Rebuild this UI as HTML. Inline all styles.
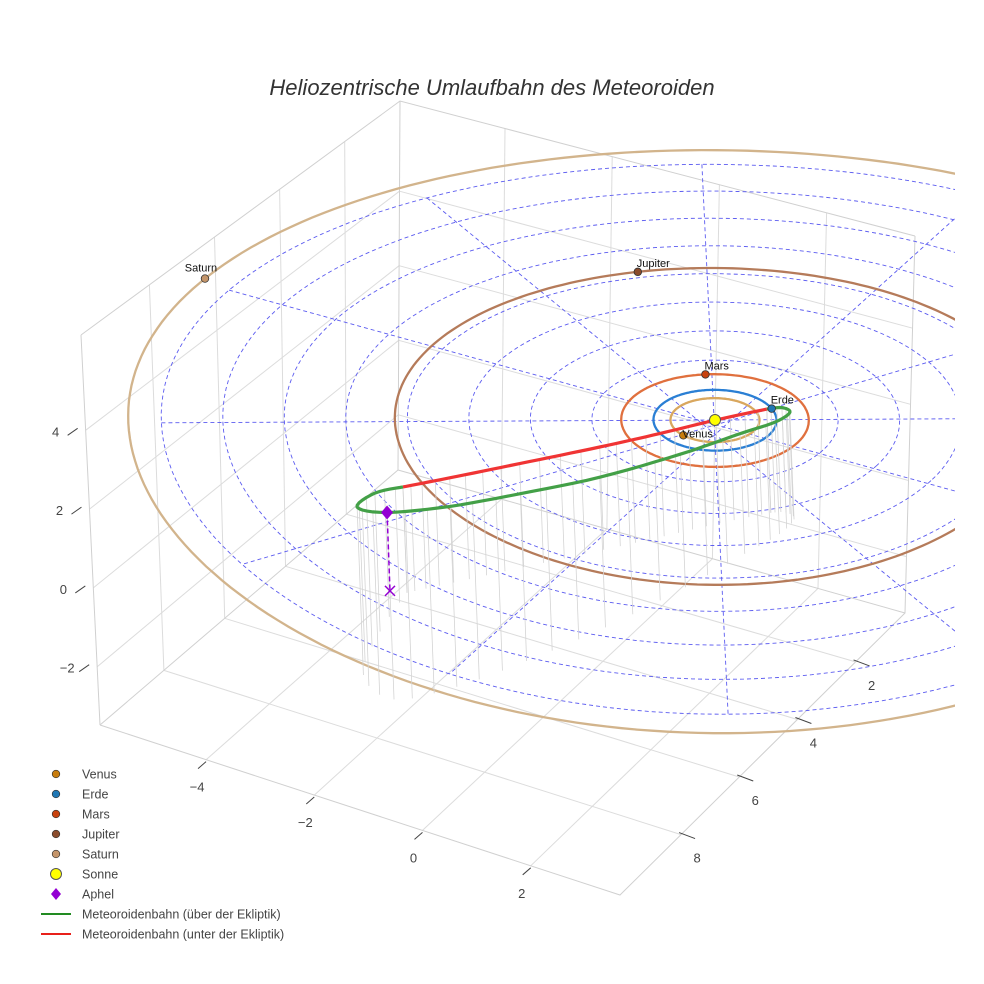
<!DOCTYPE html>
<html><head><meta charset="utf-8">
<style>
html,body{margin:0;padding:0;background:#fff;}
svg{display:block;font-family:"Liberation Sans",sans-serif;}
</style></head>
<body>
<svg id="chart" width="984" height="984" viewBox="0 0 984 984" xmlns="http://www.w3.org/2000/svg">
<defs><clipPath id="sceneClip"><rect x="0" y="0" width="955" height="984"/></clipPath></defs>
<rect x="0" y="0" width="984" height="984" fill="#fff"/>
<text x="492" y="95" text-anchor="middle" font-size="22" font-style="italic" fill="#333">Heliozentrische Umlaufbahn des Meteoroiden</text>
<g id="box"></g>
<g id="scene" clip-path="url(#sceneClip)"></g>
<g id="legend"></g>
</svg>
<script>
// ---- data ----
const planetNames = ['Venus','Erde','Mars','Jupiter','Saturn'];
const planetRadius = [0.723, 1.0, 1.524, 5.203, 9.537];
const planetAngle = [106.7, -51.5, -124.5, -132.6, 181.0];
const gridRadii = [1,2,3,4,5,6,7,8,9];
const gridAngles = [-30, 0, 30, 60, 90, 120];
const redU = [-3.38,-2.87,-2.11,-1.24,-0.59,0.0,0.56];
const redV = [4.39,3.74,2.76,1.64,0.78,-0.03,-0.73];
const redZ = [0,-0.02,-0.04,-0.05,-0.04,-0.02,0];
const greenU = [-3.38,-3.19,-2.80,-2.02,-1.31,-0.69,-0.06,0.48,0.82,1.01,0.99,0.77,0.56];
const greenV = [4.39,5.65,6.93,7.32,6.49,5.26,3.74,2.02,0.63,-0.20,-0.73,-0.86,-0.73];
const greenZ = [0,0.8,1.5,1.95,1.8,1.5,1.1,0.7,0.4,0.2,0.08,0.03,0];
const aphelU = [-2.02];
const aphelV = [7.32];
const aphelZ = [1.95];
const xTicks = [-4,-2,0,2];
const yTicks = [2,4,6,8];
const zTicks = [-2,0,2,4];
const xRange = [-5.96, 3.65];
const yRange = [0.3, 10.1];
const zRange = [-3.48, 6.42];
const dropFloorZ = -2.7;

// ---- styles ----
const orbitColors = ['#d9a75e','#2a7fd4','#e0703e','#b57b5a','#d2b48c'];
const markerColors = ['#c87d0e','#1f77b4','#c8420e','#8b4c2c','#c4956a'];

const NS = 'http://www.w3.org/2000/svg';
function S(u,v,z){
  const d = (15.5*u + 27.5*v)/31.6;
  const f = 0.963/(1 - 0.0078*d);
  return [715 + 54*u - 29.5*v - 1.5*z, 420 + f*(15.5*u + 27.5*v - 40*z)];
}
const floorQ = {bl:[398,470], br:[905,613], fl:[100,725], fr:[620,895]};
const topQ = {bl:[400,101], br:[915,236], fl:[81,335], fr:[612,490]};
function bil(Q,fx,fy){
  const b=[Q.bl[0]+(Q.br[0]-Q.bl[0])*fx, Q.bl[1]+(Q.br[1]-Q.bl[1])*fx];
  const f=[Q.fl[0]+(Q.fr[0]-Q.fl[0])*fx, Q.fl[1]+(Q.fr[1]-Q.fl[1])*fx];
  return [b[0]+(f[0]-b[0])*fy, b[1]+(f[1]-b[1])*fy];
}
function B(x,y,z){
  const fx=(x-xRange[0])/(xRange[1]-xRange[0]), fy=(y-yRange[0])/(yRange[1]-yRange[0]), fz=(z-zRange[0])/(zRange[1]-zRange[0]);
  const a=bil(floorQ,fx,fy), t=bil(topQ,fx,fy);
  return [a[0]+(t[0]-a[0])*fz, a[1]+(t[1]-a[1])*fz];
}
function mk(tag, attrs, parent){ const e=document.createElementNS(NS,tag); for(const k in attrs) e.setAttribute(k,attrs[k]); parent.appendChild(e); return e; }
function pts(arr){ return arr.map(p=>p[0].toFixed(1)+','+p[1].toFixed(1)).join(' '); }

const box = document.getElementById('box');
const scene = document.getElementById('scene');
const legend = document.getElementById('legend');
const gridCol = '#dcdcdc';
xTicks.forEach(x=>{ const l=mk('polyline',{points:pts([B(x,yRange[0],zRange[0]),B(x,yRange[1],zRange[0])]),stroke:gridCol,fill:'none'},box);
   });
yTicks.forEach(y=>{ const l=mk('polyline',{points:pts([B(xRange[0],y,zRange[0]),B(xRange[1],y,zRange[0])]),stroke:gridCol,fill:'none'},box);
   });
yTicks.forEach(y=>{ const l=mk('polyline',{points:pts([B(xRange[0],y,zRange[0]),B(xRange[0],y,zRange[1])]),stroke:gridCol,fill:'none'},box);
   });
zTicks.forEach(z=>{ const l=mk('polyline',{points:pts([B(xRange[0],yRange[0],z),B(xRange[0],yRange[1],z)]),stroke:gridCol,fill:'none'},box);
   });
xTicks.forEach(x=>{ const l=mk('polyline',{points:pts([B(x,yRange[0],zRange[0]),B(x,yRange[0],zRange[1])]),stroke:gridCol,fill:'none'},box);
   });
zTicks.forEach(z=>{ const l=mk('polyline',{points:pts([B(xRange[0],yRange[0],z),B(xRange[1],yRange[0],z)]),stroke:gridCol,fill:'none'},box);
   });
const edgeCol='#d0d0d0';
[[B(xRange[0],yRange[1],zRange[0]),B(xRange[1],yRange[1],zRange[0]),B(xRange[1],yRange[0],zRange[0]),B(xRange[1],yRange[0],zRange[1])],
 [B(xRange[0],yRange[1],zRange[1]),B(xRange[0],yRange[1],zRange[0])],
 [B(xRange[0],yRange[1],zRange[1]),B(xRange[0],yRange[0],zRange[1]),B(xRange[1],yRange[0],zRange[1])],
 [B(xRange[0],yRange[0],zRange[0]),B(xRange[0],yRange[0],zRange[1])],
 [B(xRange[0],yRange[0],zRange[0]),B(xRange[1],yRange[0],zRange[0])],
 [B(xRange[0],yRange[0],zRange[0]),B(xRange[0],yRange[1],zRange[0])]].forEach(e=>{
  const l=mk('polyline',{points:pts(e),stroke:edgeCol,fill:'none'},box);
    });
const lab = {'font-size':13, fill:'#444', 'text-anchor':'middle'};
xTicks.forEach(x=>{ const p=B(x,yRange[1],zRange[0]);
 const t=mk('line',{x1:p[0],y1:p[1]+2,x2:p[0]-8,y2:p[1]+9,stroke:'#444'},box);
  
 const s=mk('text',Object.assign({x:p[0]-9,y:p[1]+32},lab),box); s.textContent=String(x).replace('-','\u2212');
   });
yTicks.forEach(y=>{ const p=B(xRange[1],y,zRange[0]);
 const t=mk('line',{x1:p[0]-2,y1:p[1]-2,x2:p[0]+14,y2:p[1]+4,stroke:'#444'},box);
  
 const s=mk('text',Object.assign({x:p[0]+16,y:p[1]+28},lab),box); s.textContent=String(y);
   });
zTicks.forEach(z=>{ const p=B(xRange[0],yRange[1],z);
 const t=mk('line',{x1:p[0]-18,y1:p[1]+5,x2:p[0]-8,y2:p[1]-2,stroke:'#444'},box);
  
 const s=mk('text',Object.assign({x:p[0]-30,y:p[1]+6},lab),box); s.textContent=String(z).replace('-','\u2212');
   });

gridRadii.forEach(r=>{ const a=[]; for(let i=0;i<=180;i++){const t=i/180*2*Math.PI; a.push(S(r*Math.cos(t),r*Math.sin(t),0));}
 const l=mk('polyline',{points:pts(a),fill:'none',stroke:'#5b5bf0','stroke-width':0.9,'stroke-dasharray':'4,3'},scene);
   });
gridAngles.forEach(d=>{ const t=d*Math.PI/180; const R=gridRadii[gridRadii.length-1];
 const l=mk('polyline',{points:pts([S(-R*Math.cos(t),-R*Math.sin(t),0),S(R*Math.cos(t),R*Math.sin(t),0)]),fill:'none',stroke:'#5b5bf0','stroke-width':0.9,'stroke-dasharray':'4,3'},scene);
   });

planetRadius.forEach((r,k)=>{ const a=[]; for(let i=0;i<=240;i++){const t=i/240*2*Math.PI; a.push(S(r*Math.cos(t),r*Math.sin(t),0));}
 const l=mk('polyline',{points:pts(a),fill:'none',stroke:orbitColors[k],'stroke-width':2.3},scene);
   });

function spline(U,V,Z,n){ const out=[]; const N=U.length;
 const g=(A,i)=>A[Math.max(0,Math.min(N-1,i))];
 for(let i=0;i<N-1;i++){ for(let s=0;s<n;s++){ const t=s/n;
  const f=A=>{const p0=g(A,i-1),p1=g(A,i),p2=g(A,i+1),p3=g(A,i+2);
   return 0.5*((2*p1)+(-p0+p2)*t+(2*p0-5*p1+4*p2-p3)*t*t+(-p0+3*p1-3*p2+p3)*t*t*t);};
  out.push([f(U),f(V),f(Z)]); } }
 out.push([U[N-1],V[N-1],Z[N-1]]); return out; }
const redPts = spline(redU,redV,redZ,8);
const greenPts = spline(greenU,greenV,greenZ,6);
[greenPts, redPts].forEach(arr=>{ arr.forEach((p,i)=>{ if(i%2) return;
 const a=S(p[0],p[1],p[2]), b=S(p[0],p[1],dropFloorZ);
 const l=mk('line',{x1:a[0],y1:a[1],x2:b[0],y2:b[1],stroke:'#d4d4d4','stroke-width':0.8},scene);
   }); });
const gl=mk('polyline',{points:pts(greenPts.map(p=>S(p[0],p[1],p[2]))),fill:'none',stroke:'#43a047','stroke-width':3.2,'stroke-linejoin':'round'},scene);
 
const rl=mk('polyline',{points:pts(redPts.map(p=>S(p[0],p[1],p[2]))),fill:'none',stroke:'#f03434','stroke-width':3.2,'stroke-linejoin':'round'},scene);
 

aphelU.forEach((u,i)=>{ const a=S(u,aphelV[i],aphelZ[i]), b=S(u,aphelV[i],0);
 const d=mk('line',{x1:a[0],y1:a[1],x2:b[0],y2:b[1],stroke:'#9400d3','stroke-width':1.5,'stroke-dasharray':'5,3'},scene);
  
 const x=mk('path',{d:`M${b[0]-5},${b[1]-5}L${b[0]+5},${b[1]+5}M${b[0]-5},${b[1]+5}L${b[0]+5},${b[1]-5}`,stroke:'#9400d3','stroke-width':1.5},scene);
  
 const m=mk('path',{d:`M${a[0]},${a[1]-7}L${a[0]+6},${a[1]}L${a[0]},${a[1]+7}L${a[0]-6},${a[1]}Z`,fill:'#9400d3'},scene);
   });

const sp=S(0,0,0);
const sun=mk('circle',{cx:sp[0],cy:sp[1],r:5.5,fill:'#ffff00',stroke:'#555','stroke-width':1},scene);
 
planetNames.forEach((n,k)=>{ const t=planetAngle[k]*Math.PI/180; const p=S(planetRadius[k]*Math.cos(t),planetRadius[k]*Math.sin(t),0);
 const c=mk('circle',{cx:p[0],cy:p[1],r:3.8,fill:markerColors[k],stroke:'#333','stroke-width':0.8},scene);
  
 const tx = n==='Saturn' ? mk('text',{x:p[0]-4,y:p[1]-7,'font-size':11,fill:'#111','text-anchor':'middle'},scene)
   : mk('text',{x:p[0]-1,y:p[1]-(n==='Venus'?-2:5),'font-size':11,fill:'#111'},scene);
 tx.textContent=n;
   });

const legItems=[['Venus','dot',markerColors[0]],['Erde','dot',markerColors[1]],['Mars','dot',markerColors[2]],['Jupiter','dot',markerColors[3]],['Saturn','dot',markerColors[4]],['Sonne','sun','#ffff00'],['Aphel','diamond','#9400d3'],['Meteoroidenbahn (über der Ekliptik)','line','#228b22'],['Meteoroidenbahn (unter der Ekliptik)','line','#e8201a']];
legItems.forEach((it,i)=>{ const y=774+20*i; const g=mk('g',{},legend);
  
 if(it[1]==='dot') mk('circle',{cx:56,cy:y,r:3.8,fill:it[2],stroke:'#333','stroke-width':0.7},g);
 else if(it[1]==='sun') mk('circle',{cx:56,cy:y,r:5.5,fill:it[2],stroke:'#555','stroke-width':1},g);
 else if(it[1]==='diamond') mk('path',{d:`M56,${y-6}L61,${y}L56,${y+6}L51,${y}Z`,fill:it[2]},g);
 else mk('line',{x1:41,y1:y,x2:71,y2:y,stroke:it[2],'stroke-width':2},g);
 const t=mk('text',{x:82,y:y+4.5,'font-size':12.5,fill:'#444'},g); t.textContent=it[0]; });
</script>
</body></html>
